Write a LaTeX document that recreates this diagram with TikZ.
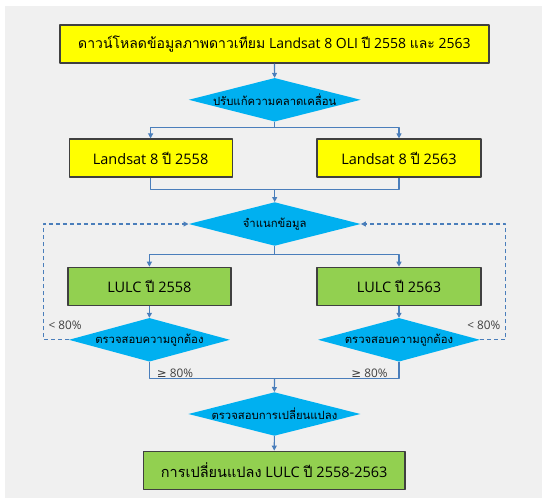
\documentclass[tikz,border=0pt]{standalone}
\usepackage{fontspec}
\setmainfont{Open Sans}
\newfontfamily\thaifont[Script=Thai]{Loma}
\newfontfamily\symfont{DejaVu Sans}
\usetikzlibrary{shapes.geometric,arrows.meta}
\definecolor{bgcol}{HTML}{F0F0F0}
\definecolor{yboxcol}{HTML}{FFFF00}
\definecolor{gboxcol}{HTML}{92D050}
\definecolor{decol}{HTML}{00B0F0}
\definecolor{conncol}{HTML}{4A7EBB}
\definecolor{boxline}{HTML}{404040}
\definecolor{pctcol}{HTML}{404040}
\newcommand{\thai}[1]{{\thaifont #1}}
\newcommand{\dtxt}[1]{\makebox[0pt]{#1}}
\begin{document}
\begin{tikzpicture}[x=1pt, y=-1pt, line join=round, >={Triangle[length=5pt,width=5pt]},
	box/.style={draw=boxline, line width=1.2pt, minimum height=38pt, font=\fontsize{14.5}{16}\selectfont},
	ybox/.style={box, fill=yboxcol},
	gbox/.style={box, fill=gboxcol},
	decision/.style={diamond, fill=decol, inner sep=0pt, minimum width=172pt, minimum height=43.6pt, font=\fontsize{11.3}{13}\selectfont},
	conn/.style={draw=conncol, line width=1.1pt},
	fback/.style={conn, dash pattern=on 4pt off 3pt},
	pct/.style={font=\fontsize{11.8}{13}\selectfont, text=pctcol, inner sep=0pt}]
	% background
	\fill[bgcol] (5,6) rectangle (542,498);
	\useasboundingbox (0,0) rectangle (542,498);
	% nodes
	\node[ybox, minimum width=429pt, font=\fontsize{14}{16}\selectfont] (dl) at (274.4,44) {\thai{ดาวน์โหลดข้อมูลภาพดาวเทียม} Landsat 8 OLI \thai{ปี} 2558 \thai{และ} 2563};
	\node[decision] (geo) at (274.7,99.8) {\dtxt{\thai{ปรับแก้ความคลาดเคลื่อน}}};
	\node[ybox, minimum width=163pt] (ls58) at (150.6,158) {Landsat 8 \thai{ปี} 2558};
	\node[ybox, minimum width=164pt] (ls63) at (399,158) {Landsat 8 \thai{ปี} 2563};
	\node[decision] (cls) at (274.7,224) {\dtxt{\thai{จำแนกข้อมูล}}};
	\node[gbox, minimum width=163pt] (lu58) at (149.4,286.3) {LULC \thai{ปี} 2558};
	\node[gbox, minimum width=164pt] (lu63) at (399,286.3) {LULC \thai{ปี} 2563};
	\node[decision, minimum width=161pt] (acc58) at (149.4,339.8) {\dtxt{\thai{ตรวจสอบความถูกต้อง}}};
	\node[decision, minimum width=162pt] (acc63) at (399,339.8) {\dtxt{\thai{ตรวจสอบความถูกต้อง}}};
	\node[decision] (chg) at (274.4,414) {\dtxt{\thai{ตรวจสอบการเปลี่ยนแปลง}}};
	\node[gbox, minimum width=261.6pt] (res) at (274.2,470.2) {\thai{การเปลี่ยนแปลง} LULC \thai{ปี} 2558-2563};
	% labels
	\node[pct] (lo58) at (65.2,325.3) {< 80\%};
	\node[pct] (lo63) at (483.8,325.3) {< 80\%};
	\node[pct] (hi58) at (175,373.4) {{\symfont ≥} 80\%};
	\node[pct] (hi63) at (369.4,373.4) {{\symfont ≥} 80\%};
	% branch points
	\coordinate (sp1) at (274.7,127.6);
	\coordinate (mg1) at (274.7,189.1);
	\coordinate (sp2) at (274.7,254.1);
	\coordinate (mg2) at (274.5,378.9);
	\coordinate (fb58) at (43.2,224);
	\coordinate (fb63) at (505.8,224);
	% connectors
	\draw[conn,->] (dl) -- (geo);
	\draw[conn] (geo.south) -- (sp1);
	\draw[conn,->] (sp1) -| (ls58.north);
	\draw[conn,->] (sp1) -| (ls63.north);
	\draw[conn] (ls58.south) |- (mg1);
	\draw[conn] (ls63.south) |- (mg1);
	\draw[conn,->] (mg1) -- (cls.north);
	\draw[conn] (cls.south) -- (sp2);
	\draw[conn,->] (sp2) -| (lu58.north);
	\draw[conn,->] (sp2) -| (lu63.north);
	\draw[conn,->] (lu58) -- (acc58);
	\draw[conn,->] (lu63) -- (acc63);
	\draw[fback,->] (acc58.west) -| (fb58) -- (cls.west);
	\draw[fback,->] (acc63.east) -| (fb63) -- (cls.east);
	\draw[conn] (acc58.south) |- (mg2);
	\draw[conn] (acc63.south) |- (mg2);
	\draw[conn,->] (mg2) -- (chg.north);
	\draw[conn,->] (chg) -- (res);
\end{tikzpicture}
\end{document}
